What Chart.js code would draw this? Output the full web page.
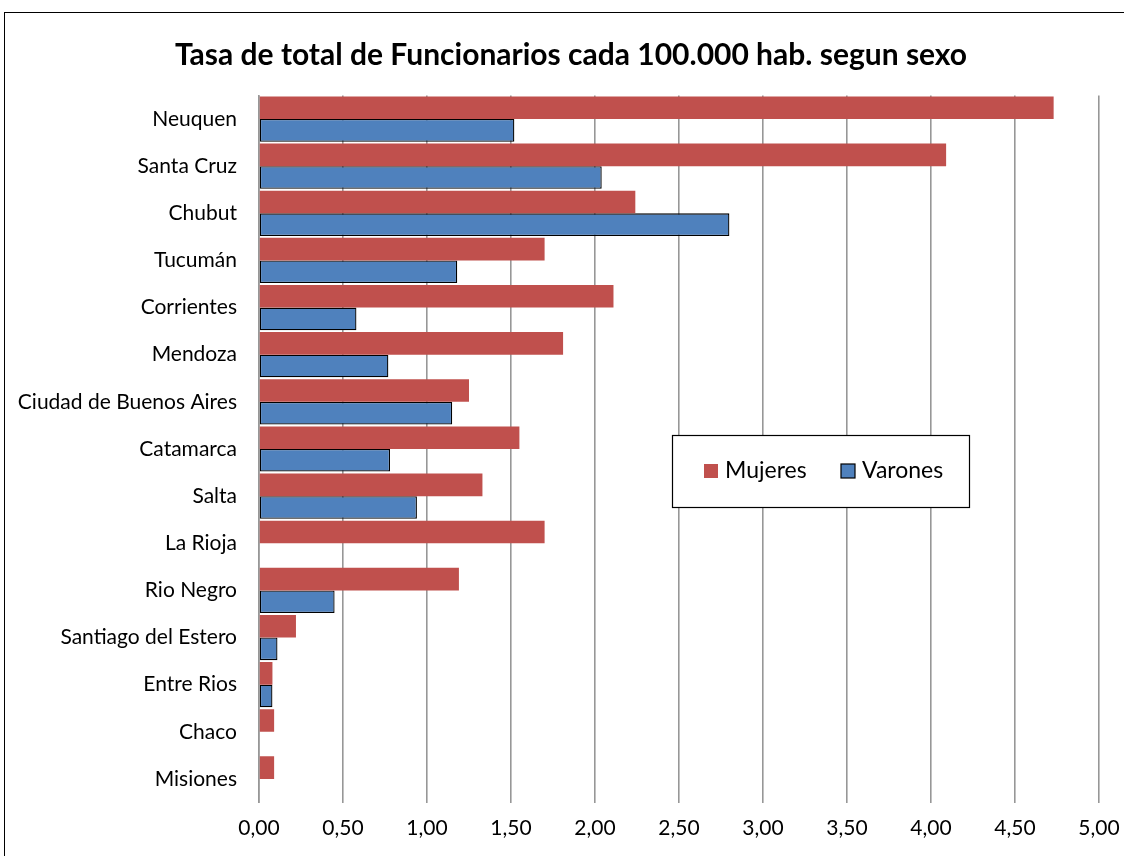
<!DOCTYPE html>
<html>
<head>
<meta charset="utf-8">
<script src="https://cdn.jsdelivr.net/npm/chart.js@4.4.0/dist/chart.umd.min.js"></script>
<style>
  html, body { margin: 0; padding: 0; background: #fff; }
  #wrap { position: relative; width: 1124px; height: 856px; overflow: hidden; }
  #frame { position: absolute; left: 4px; top: 12px; width: 1200px; height: 900px; border: 1.5px solid #000; box-sizing: border-box; }
  canvas { position: absolute; left: 0; top: 0; }
</style>
</head>
<body>
<div id="wrap">
  <div id="frame"></div>
  <canvas id="chart" width="1124" height="856"></canvas>
</div>
<script>
// --- DATA ---
const provincias = ['Neuquen', 'Santa Cruz', 'Chubut', 'Tucumán', 'Corrientes', 'Mendoza',
  'Ciudad de Buenos Aires', 'Catamarca', 'Salta', 'La Rioja', 'Rio Negro',
  'Santiago del Estero', 'Entre Rios', 'Chaco', 'Misiones'];
const mujeres = [4.73, 4.09, 2.24, 1.70, 2.11, 1.81, 1.25, 1.55, 1.33, 1.70, 1.19, 0.22, 0.08, 0.09, 0.09];
const varones = [1.52, 2.04, 2.80, 1.18, 0.58, 0.77, 1.15, 0.78, 0.94, 0, 0.45, 0.11, 0.08, 0, 0];
const xTicks = [0, 0.5, 1, 1.5, 2, 2.5, 3, 3.5, 4, 4.5, 5];

const titulo = 'Tasa de total de Funcionarios cada 100.000 hab. segun sexo';
const FONT = 'Lato, "Open Sans", sans-serif';

// --- title + boxed legend drawn on the canvas ---
const extras = {
    id: 'extras',
    afterDraw(chart) {
        const ctx = chart.ctx;
        ctx.save();
        ctx.fillStyle = '#000';
        ctx.font = 'bold 30px ' + FONT;
        ctx.textAlign = 'center';
        ctx.textBaseline = 'middle';
        ctx.fillText(titulo, 571, 55);

        // legend box
        ctx.fillStyle = '#fff';
        ctx.fillRect(672, 435, 297, 72);
        ctx.strokeStyle = '#000';
        ctx.lineWidth = 1.2;
        ctx.strokeRect(672.5, 435.5, 297, 72);

        ctx.font = '23px ' + FONT;
        ctx.textAlign = 'left';
        const ds = chart.data.datasets;
        // Mujeres
        ctx.fillStyle = ds[0].backgroundColor;
        ctx.fillRect(704, 464, 14, 14);
        ctx.fillStyle = '#000';
        ctx.fillText(ds[0].label, 725, 471);
        // Varones
        ctx.fillStyle = ds[1].backgroundColor;
        ctx.fillRect(841, 464, 14, 14);
        ctx.strokeStyle = '#000';
        ctx.lineWidth = 1.2;
        ctx.strokeRect(841, 464, 14, 14);
        ctx.fillStyle = '#000';
        ctx.fillText(ds[1].label, 862, 471);
        ctx.restore();
    }
};

new Chart(document.getElementById('chart'), {
    type: 'bar',
    data: {
        labels: provincias,
        datasets: [
            { label: 'Mujeres', data: mujeres, backgroundColor: '#C0504D', borderWidth: 0,
              categoryPercentage: 0.96, barPercentage: 1.0 },
            { label: 'Varones', data: varones, backgroundColor: '#4F81BD', borderColor: '#000',
              borderWidth: 1.3, borderSkipped: false, categoryPercentage: 0.96, barPercentage: 1.0 }
        ]
    },
    options: {
        indexAxis: 'y',
        responsive: false,
        animation: false,
        layout: { padding: { top: 95.5, right: 25, left: 0, bottom: 0 } },
        plugins: {
            legend: { display: false },
            title: { display: false },
            tooltip: { enabled: false }
        },
        scales: {
            x: {
                min: 0,
                max: 5,
                afterBuildTicks: (axis) => { axis.ticks = xTicks.map(v => ({ value: v })); },
                afterFit: (axis) => {
                    axis.height = 53.5;
                    axis.paddingLeft = 0;
                    axis.paddingRight = 0;
                },
                grid: { color: '#979797', lineWidth: 1.6, drawTicks: false },
                border: { display: false },
                ticks: {
                    padding: 13,
                    color: '#000',
                    font: { family: FONT, size: 21 },
                    callback: (v) => Number(v).toFixed(2).replace('.', ',')
                }
            },
            y: {
                afterFit: (axis) => { axis.width = 259; },
                grid: { display: false, drawTicks: false },
                border: { display: true, color: '#979797', width: 1.6 },
                ticks: {
                    padding: 22,
                    color: '#000',
                    font: { family: FONT, size: 21 }
                }
            }
        }
    },
    plugins: [extras]
});
</script>
</body>
</html>
